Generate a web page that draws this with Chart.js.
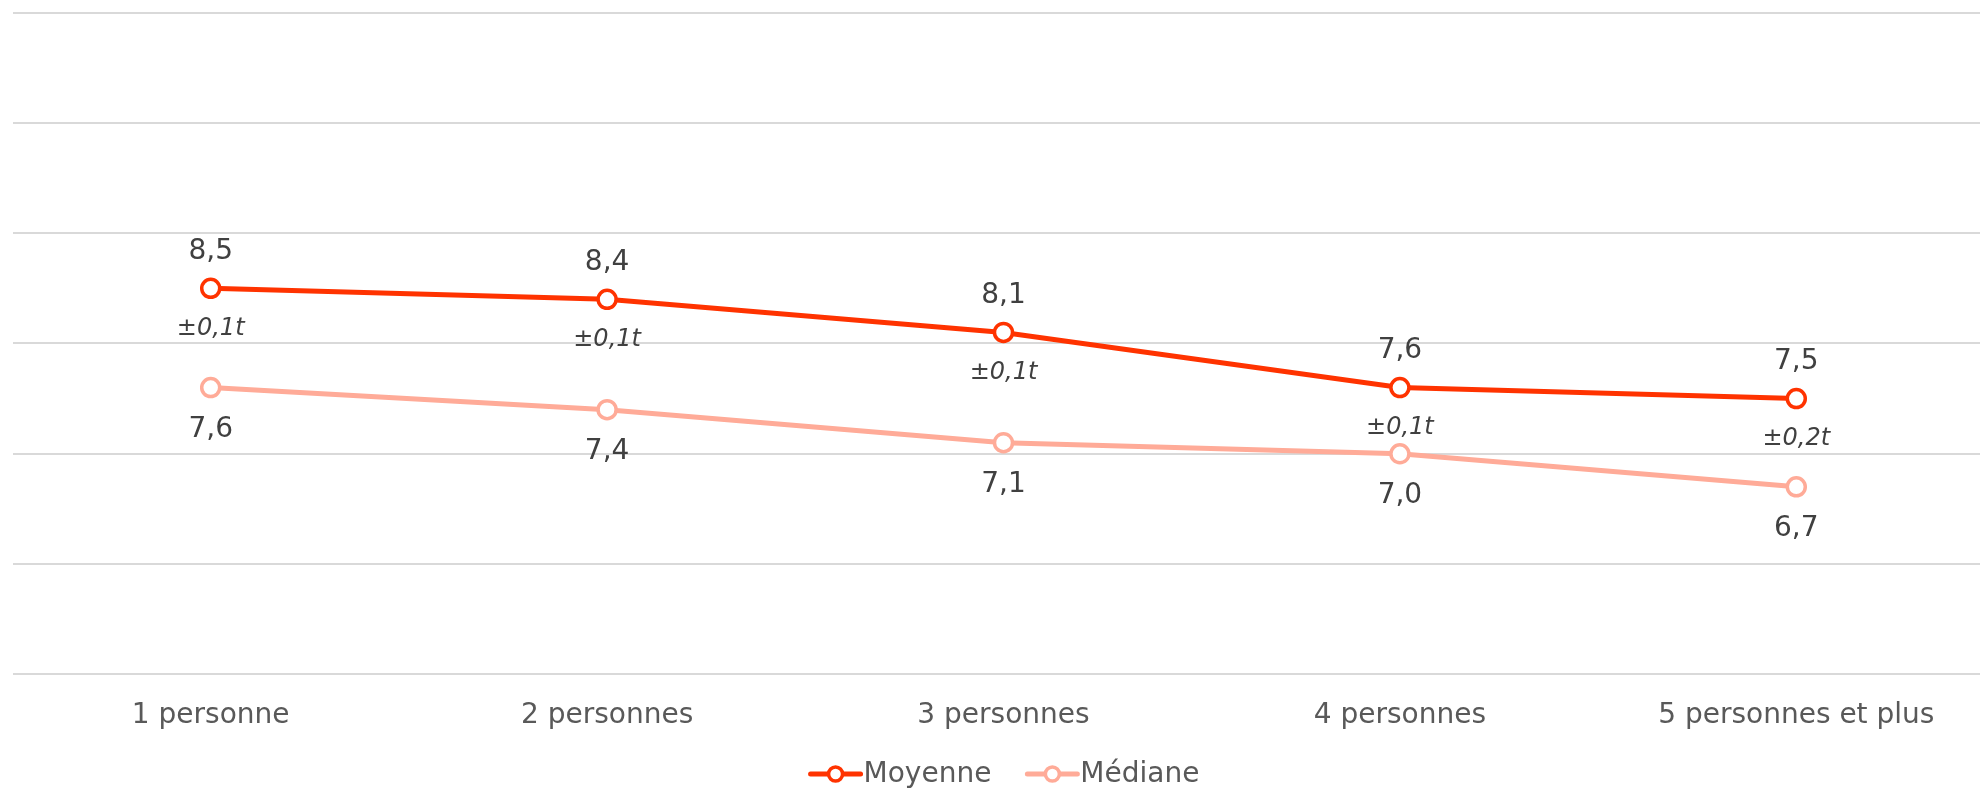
<!DOCTYPE html>
<html>
<head>
<meta charset="utf-8">
<script src="https://cdn.jsdelivr.net/npm/chart.js@4.4.1/dist/chart.umd.min.js"></script>
<style>
  html, body { margin: 0; padding: 0; background: #fff; }
  #wrap { width: 1980px; height: 789px; overflow: hidden; position: relative; }
  canvas { display: block; }
</style>
</head>
<body>
<div id="wrap"><canvas id="chart" width="2007" height="789"></canvas></div>
<script>
// data
const categories = ['1 personne', '2 personnes', '3 personnes', '4 personnes', '5 personnes et plus'];
const moyenne = [8.5, 8.4, 8.1, 7.6, 7.5];
const mediane = [7.6, 7.4, 7.1, 7.0, 6.7];
const marges = ['±0,1t', '±0,1t', '±0,1t', '±0,1t', '±0,2t'];
const fmt = v => v.toFixed(1).replace('.', ',');

const RED = '#ff3300';
const PINK = '#ffab98';
const FONT = '"DejaVu Sans", sans-serif';

// value labels drawn next to the points
const labelPlugin = {
    id: 'valueLabels',
    afterDatasetsDraw(chart) {
        const ctx = chart.ctx;
        ctx.save();
        ctx.textAlign = 'center';
        ctx.textBaseline = 'middle';
        ctx.fillStyle = '#404040';
        chart.getDatasetMeta(0).data.forEach((pt, i) => {
            ctx.font = '28px ' + FONT;
            ctx.fillText(fmt(moyenne[i]), pt.x, pt.y - 37);
            ctx.font = 'italic 24px ' + FONT;
            ctx.fillText(marges[i], pt.x, pt.y + 40);
        });
        chart.getDatasetMeta(1).data.forEach((pt, i) => {
            ctx.font = '28px ' + FONT;
            ctx.fillText(fmt(mediane[i]), pt.x, pt.y + 42);
        });
        ctx.restore();
    }
};

// legend: line + hollow circle, text right after it
const legendPlugin = {
    id: 'lineLegend',
    afterDraw(chart) {
        const ctx = chart.ctx;
        const area = chart.chartArea;
        const y = 774;
        const markW = 56, gap = 33;
        ctx.save();
        ctx.font = '28px ' + FONT;
        const items = chart.data.datasets.map(ds => ({ ds, w: ctx.measureText(ds.label).width }));
        const total = items.reduce((s, it) => s + markW + it.w, 0) + gap * (items.length - 1);
        let x = (area.left + area.right) / 2 - total / 2;
        items.forEach(it => {
            const c = it.ds.borderColor;
            ctx.strokeStyle = c;
            ctx.lineWidth = 5;
            ctx.lineCap = 'round';
            ctx.beginPath(); ctx.moveTo(x + 3, y); ctx.lineTo(x + markW - 3, y); ctx.stroke();
            ctx.beginPath(); ctx.arc(x + markW / 2, y, 7, 0, Math.PI * 2);
            ctx.fillStyle = '#fff'; ctx.fill();
            ctx.lineWidth = 3.5; ctx.stroke();
            ctx.fillStyle = '#595959';
            ctx.textAlign = 'left';
            ctx.textBaseline = 'middle';
            ctx.fillText(it.ds.label, x + markW, y + 1);
            x += markW + it.w + gap;
        });
        ctx.restore();
    }
};

const ctx = document.getElementById('chart').getContext('2d');
new Chart(ctx, {
    type: 'line',
    data: {
        labels: categories,
        datasets: [{
            label: 'Moyenne',
            data: moyenne,
            borderColor: RED,
            backgroundColor: '#fff',
            borderWidth: 5,
            pointRadius: 9,
            pointBorderWidth: 3.5,
            pointBackgroundColor: '#fff',
            pointBorderColor: RED,
        }, {
            label: 'Médiane',
            data: mediane,
            borderColor: PINK,
            backgroundColor: '#fff',
            borderWidth: 5,
            pointRadius: 9,
            pointBorderWidth: 3.5,
            pointBackgroundColor: '#fff',
            pointBorderColor: PINK,
        }],
    },
    options: {
        responsive: false,
        animation: false,
        devicePixelRatio: 1,
        layout: { padding: { top: 12, left: 12, right: 0, bottom: 31 } },
        scales: {
            x: {
                offset: true,
                grid: { display: false, drawTicks: false },
                border: { display: false },
                ticks: { color: '#595959', font: { family: FONT, size: 28 }, padding: 25 },
            },
            y: {
                min: 5,
                max: 11,
                ticks: { display: false, stepSize: 1 },
                border: { display: false },
                grid: { color: '#d9d9d9', lineWidth: 2, drawTicks: false },
            },
        },
        plugins: {
            tooltip: { enabled: false },
            legend: { display: false },
        },
    },
    plugins: [labelPlugin, legendPlugin],
});
</script>
</body>
</html>
